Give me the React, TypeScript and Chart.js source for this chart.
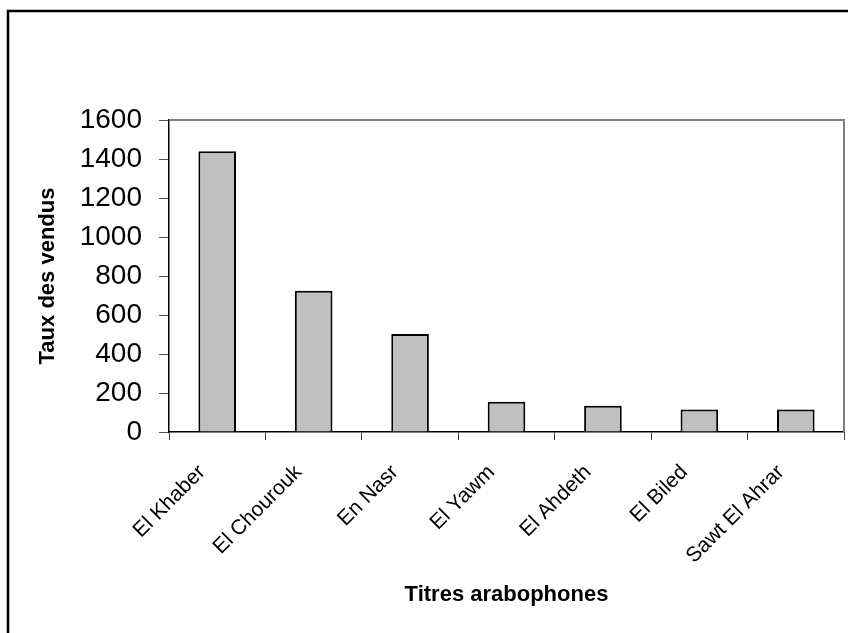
import React, { useEffect, useRef } from 'react';
import { Chart, registerables } from 'chart.js';

Chart.register(...registerables);

const categories = ['El Khaber', 'El Chourouk', 'En Nasr', 'El Yawm', 'El Ahdeth', 'El Biled', 'Sawt El Ahrar'];
const values = [1440, 725, 502, 155, 135, 115, 115];
const yMin = 0;
const yMax = 1600;
const yStep = 200;
const xTitle = 'Titres arabophones';
const yTitle = 'Taux des vendus';

const FONT = "'Liberation Sans', Arial, sans-serif";

const framePlugin = {
  id: 'frame',
  beforeDraw(chart: any) {
    const { ctx } = chart;
    ctx.save();
    ctx.fillStyle = '#ffffff';
    ctx.fillRect(0, 0, chart.width, chart.height);
    ctx.strokeStyle = '#000000';
    ctx.lineWidth = 2.5;
    ctx.strokeRect(8, 11, chart.width + 40, chart.height + 40);
    ctx.restore();
  },
  beforeDatasetsDraw(chart: any) {
    const { ctx, chartArea: a } = chart;
    ctx.save();
    ctx.strokeStyle = '#808080';
    ctx.lineWidth = 2;
    ctx.beginPath();
    ctx.moveTo(a.left, a.top);
    ctx.lineTo(a.right, a.top);
    ctx.lineTo(a.right, a.bottom);
    ctx.stroke();
    ctx.restore();
  },
};

export default function App() {
  const ref = useRef<HTMLCanvasElement | null>(null);

  useEffect(() => {
    if (!ref.current) return;
    const chart = new Chart(ref.current, {
      type: 'bar',
      data: {
        labels: categories,
        datasets: [
          {
            data: values,
            backgroundColor: '#c0c0c0',
            borderColor: '#000000',
            borderWidth: 2,
            categoryPercentage: 1,
            barPercentage: 0.39,
          },
        ],
      },
      options: {
        responsive: false,
        animation: false,
        layout: { padding: { top: 120, right: 4, left: 0, bottom: 0 } },
        plugins: {
          legend: { display: false },
          tooltip: { enabled: false },
        },
        scales: {
          x: {
            afterFit(scale: any) {
              scale.height = 201;
            },
            grid: {
              offset: true,
              drawOnChartArea: false,
              drawTicks: true,
              tickLength: 8,
              color: '#404040',
              lineWidth: 1,
            },
            border: { display: true, color: '#000000', width: 1.5 },
            ticks: {
              autoSkip: false,
              minRotation: 45,
              maxRotation: 45,
              padding: 20,
              labelOffset: -15,
              color: '#000000',
              font: { family: FONT, size: 21 },
            },
            title: {
              display: true,
              text: xTitle,
              color: '#000000',
              font: { family: FONT, size: 22, weight: 'bold' },
              padding: { top: 0, bottom: 25 },
            },
          },
          y: {
            min: yMin,
            max: yMax,
            afterFit(scale: any) {
              scale.width = 169;
            },
            grid: {
              drawOnChartArea: false,
              drawTicks: true,
              tickLength: 10,
              color: '#505050',
              lineWidth: 1,
            },
            border: { display: true, color: '#000000', width: 1.5 },
            ticks: {
              stepSize: yStep,
              autoSkip: false,
              maxTicksLimit: 20,
              padding: 17,
              color: '#000000',
              font: { family: FONT, size: 28 },
              callback: (v: any) => String(v),
            },
            title: {
              display: true,
              text: yTitle,
              color: '#000000',
              font: { family: FONT, size: 22, weight: 'bold' },
              padding: { top: 35, bottom: 0 },
            },
          },
        },
      },
      plugins: [framePlugin],
    } as any);
    return () => chart.destroy();
  }, []);

  return (
    <div style={{ position: 'absolute', left: 0, top: 0, width: 848, height: 633, background: '#fff' }}>
      <canvas ref={ref} width={848} height={633} style={{ display: 'block' }} />
    </div>
  );
}
